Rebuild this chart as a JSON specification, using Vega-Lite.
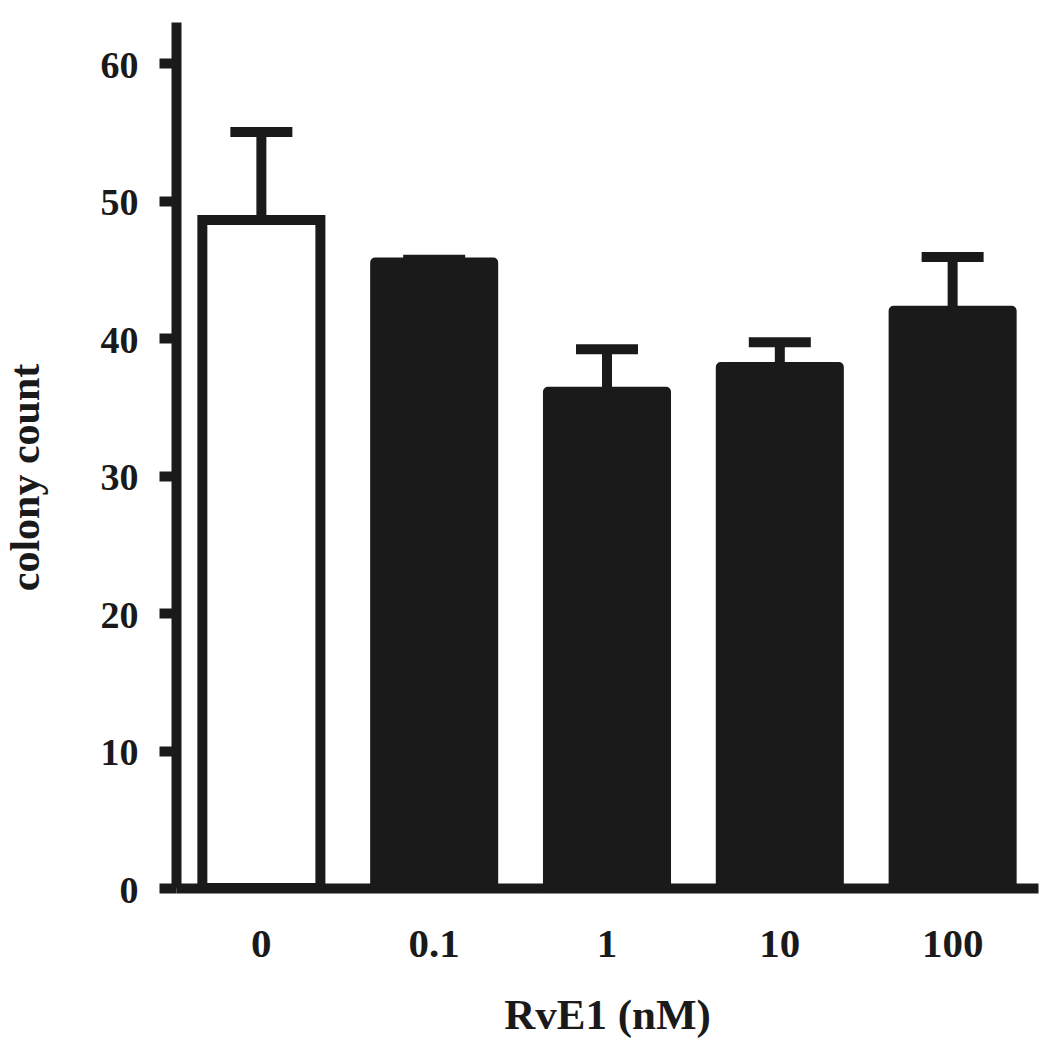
{
  "$schema": "https://vega.github.io/schema/vega-lite/v6.json",
  "width": 862,
  "height": 866,
  "autosize": {"type": "none"},
  "padding": {"left": 176, "top": 22, "right": 12, "bottom": 159},
  "background": "white",
  "config": {"view": {"stroke": null}, "axis": {"grid": false}},
  "data": {
    "values": [
      {"dose": "0", "mean": 48.6, "upper": 55.0},
      {"dose": "0.1", "mean": 45.5, "upper": 45.7},
      {"dose": "1", "mean": 36.1, "upper": 39.2},
      {"dose": "10", "mean": 37.9, "upper": 39.7},
      {"dose": "100", "mean": 42.0, "upper": 45.9}
    ]
  },
  "encoding": {
    "x": {
      "field": "dose",
      "type": "nominal",
      "sort": null,
      "scale": {"domain": ["0", "0.1", "1", "10", "100"], "paddingInner": 0.317, "paddingOuter": 0.1525},
      "axis": {
        "title": "RvE1 (nM)",
        "labelAngle": 0,
        "ticks": false,
        "tickSize": 0,
        "domain": true,
        "domainWidth": 10,
        "domainColor": "#1a1a1a",
        "labelFont": "Liberation Serif",
        "labelFontSize": 41,
        "labelFontWeight": "bold",
        "labelColor": "#1a1a1a",
        "labelBaseline": "alphabetic",
        "labelPadding": 68,
        "titleFont": "Liberation Serif",
        "titleFontSize": 43,
        "titleFontWeight": "bold",
        "titleColor": "#1a1a1a",
        "titleBaseline": "alphabetic",
        "titleX": 431,
        "titleY": 140,
        "titleAlign": "center"
      }
    }
  },
  "layer": [
    {
      "transform": [{"filter": "datum.dose === '0'"}],
      "mark": {"type": "bar", "fill": "white", "stroke": "#1a1a1a", "strokeWidth": 10, "strokeJoin": "miter"},
      "encoding": {
        "y": {
          "field": "mean",
          "type": "quantitative",
          "scale": {"domain": [0, 63], "nice": false},
          "axis": {
            "title": "colony count",
            "values": [0, 10, 20, 30, 40, 50, 60],
            "domain": true,
            "domainWidth": 10,
            "domainColor": "#1a1a1a",
            "ticks": true,
            "tickSize": 17,
            "tickWidth": 10,
            "tickColor": "#1a1a1a",
            "labelFont": "Liberation Serif",
            "labelFontSize": 38,
            "labelFontWeight": "bold",
            "labelColor": "#1a1a1a",
            "labelBaseline": "alphabetic",
            "labelOffset": 14,
            "labelPadding": 21,
            "titleFont": "Liberation Serif",
            "titleFontSize": 42,
            "titleFontWeight": "bold",
            "titleColor": "#1a1a1a",
            "titleBaseline": "alphabetic",
            "titleAngle": -90,
            "titleX": -138,
            "titleY": 455,
            "titleAlign": "center"
          }
        }
      }
    },
    {
      "transform": [{"filter": "datum.dose !== '0'"}],
      "mark": {"type": "bar", "fill": "#1a1a1a", "stroke": "#1a1a1a", "strokeWidth": 10, "strokeJoin": "round"},
      "encoding": {"y": {"field": "mean", "type": "quantitative"}}
    },
    {
      "mark": {"type": "rule", "stroke": "#1a1a1a", "strokeWidth": 10},
      "encoding": {"y": {"field": "mean", "type": "quantitative"}, "y2": {"field": "upper"}}
    },
    {
      "mark": {"type": "tick", "color": "#1a1a1a", "size": 62, "thickness": 10, "orient": "horizontal", "opacity": 1},
      "encoding": {"y": {"field": "upper", "type": "quantitative"}}
    }
  ]
}
